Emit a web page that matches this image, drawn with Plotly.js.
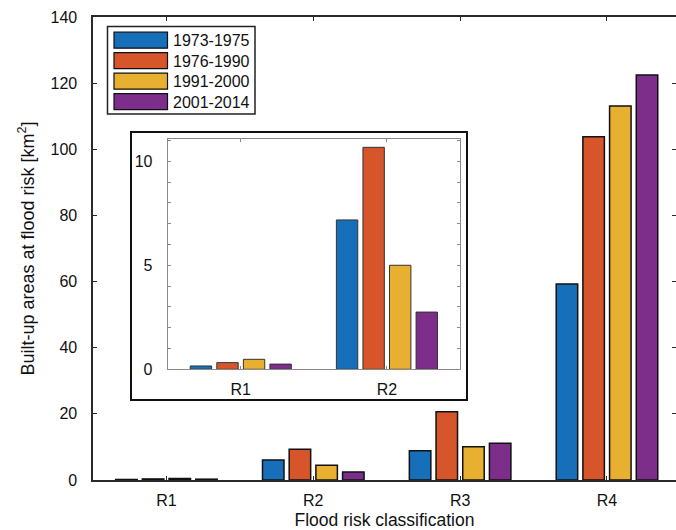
<!DOCTYPE html>
<html>
<head>
<meta charset="utf-8">
<script src="https://cdn.plot.ly/plotly-3.0.1.min.js"></script>
<style>html,body{margin:0;padding:0;background:#fff;}#chart{width:676px;height:530px;}</style>
</head>
<body>
<div id="chart"></div>
<script>
// ---- data ----
const categories = ['R1', 'R2', 'R3', 'R4'];
const insetCategories = ['R1', 'R2'];
const periods = ['1973-1975', '1976-1990', '1991-2000', '2001-2014'];

const main1973 = [0.16, 6.05, 8.86, 59.3];
const main1976 = [0.32, 9.27, 20.65, 103.8];
const main1991 = [0.48, 4.43, 10.07, 113.1];
const main2001 = [0.25, 2.4, 11.1, 122.5];

const inset1973 = [0.16, 7.18];
const inset1976 = [0.32, 10.67];
const inset1991 = [0.48, 5.0];
const inset2001 = [0.25, 2.75];

const yTickVals = [0, 20, 40, 60, 80, 100, 120, 140];
const insetYTickVals = [0, 5, 10];

// ---- styling ----
const colors = ['#176FBA', '#D6552A', '#E8B031', '#7C2E8A'];
const FONT = 'Liberation Sans, Arial, Helvetica, sans-serif';
const mainSeries = [main1973, main1976, main1991, main2001];
const insetSeries = [inset1973, inset1976, inset1991, inset2001];

// pixel -> paper helpers (plot area: x 93..676, y 17..480)
const L = 93, R = 676, T = 17, B = 480;
const px = x => (x - L) / (R - L);
const py = y => (B - y) / (B - T);

const traces = [];
mainSeries.forEach((vals, i) => {
  traces.push({
    type: 'bar', x: categories, y: vals, name: periods[i],
    xaxis: 'x', yaxis: 'y', showlegend: false,
    marker: {color: colors[i], line: {color: '#111', width: 1.5}},
    hoverinfo: 'x+y+name'
  });
});
insetSeries.forEach((vals, i) => {
  traces.push({
    type: 'bar', x: insetCategories, y: vals, name: periods[i],
    xaxis: 'x2', yaxis: 'y2', showlegend: false,
    marker: {color: colors[i], line: {color: '#333', width: 1}},
    hoverinfo: 'x+y+name'
  });
});

const shapes = [];
const annotations = [];
// inset frame
shapes.push({type: 'rect', xref: 'paper', yref: 'paper', layer: 'below',
  x0: px(131), x1: px(467), y0: py(400), y1: py(132),
  line: {color: '#111', width: 2}, fillcolor: '#fff'});
// legend box
shapes.push({type: 'rect', xref: 'paper', yref: 'paper', layer: 'above',
  x0: px(107.5), x1: px(255), y0: py(114), y1: py(26.5),
  line: {color: '#222', width: 1.5}, fillcolor: '#fff'});
periods.forEach((p, i) => {
  const c = 40.2 + i * 20.5;
  shapes.push({type: 'rect', xref: 'paper', yref: 'paper', layer: 'above',
    x0: px(114), x1: px(167.5), y0: py(c + 8), y1: py(c - 8),
    line: {color: '#111', width: 1.2}, fillcolor: colors[i]});
  annotations.push({xref: 'paper', yref: 'paper', x: px(170.5), y: py(c + 0.5),
    xanchor: 'left', yanchor: 'middle', showarrow: false, text: p,
    font: {family: FONT, size: 16, color: '#111'}});
});

const layout = {
  width: 676, height: 530,
  margin: {l: L, r: 676 - R, t: T, b: 530 - B, pad: 0},
  paper_bgcolor: '#fff', plot_bgcolor: 'rgba(0,0,0,0)',
  font: {family: FONT, size: 16, color: '#111'},
  barmode: 'group', bargap: 0.273, bargroupgap: 0.195,
  showlegend: false,
  xaxis: {
    domain: [0, 1], range: [-0.5, 3.47], type: 'category',
    showline: true, linecolor: '#2a2a2a', linewidth: 1.6, mirror: 'ticks',
    ticks: 'inside', ticklen: 4, tickcolor: '#2a2a2a', tickwidth: 1,
    showgrid: false, zeroline: false, ticklabelstandoff: 5,
    tickfont: {family: FONT, size: 16, color: '#111'},
    title: {text: 'Flood risk classification', standoff: 6,
      font: {family: FONT, size: 17.5, color: '#111'}}
  },
  yaxis: {
    domain: [0, 1], range: [0, 140], tickvals: yTickVals,
    showline: true, linecolor: '#2a2a2a', linewidth: 1.6, mirror: 'ticks',
    ticks: 'inside', ticklen: 4, tickcolor: '#2a2a2a', tickwidth: 1,
    showgrid: false, zeroline: false, ticklabelstandoff: 11,
    tickfont: {family: FONT, size: 16, color: '#111'},
    title: {text: 'Built-up areas at flood risk [km<sup>2</sup>]', standoff: 11,
      font: {family: FONT, size: 18, color: '#111'}}
  },
  xaxis2: {
    domain: [px(167.7), px(460)], anchor: 'y2', range: [-0.5, 1.5], type: 'category',
    showline: true, linecolor: '#8a8a8a', linewidth: 1, mirror: 'ticks',
    ticks: 'inside', ticklen: 3, tickcolor: '#8a8a8a',
    showgrid: false, zeroline: false, ticklabelstandoff: 5,
    tickfont: {family: FONT, size: 16, color: '#111'}
  },
  yaxis2: {
    domain: [py(369.3), py(139)], anchor: 'x2', range: [0, 11.07],
    tickvals: insetYTickVals,
    showline: true, linecolor: '#8a8a8a', linewidth: 1, mirror: 'ticks',
    ticks: 'inside', ticklen: 3, tickcolor: '#8a8a8a',
    minor: {dtick: 1, ticks: 'inside', ticklen: 3, tickcolor: '#8a8a8a', showgrid: false},
    showgrid: false, zeroline: false, ticklabelstandoff: 11,
    tickfont: {family: FONT, size: 16, color: '#111'}
  },
  shapes: shapes,
  annotations: annotations
};

Plotly.newPlot('chart', traces, layout, {displayModeBar: false, staticPlot: true});
</script>
</body>
</html>
